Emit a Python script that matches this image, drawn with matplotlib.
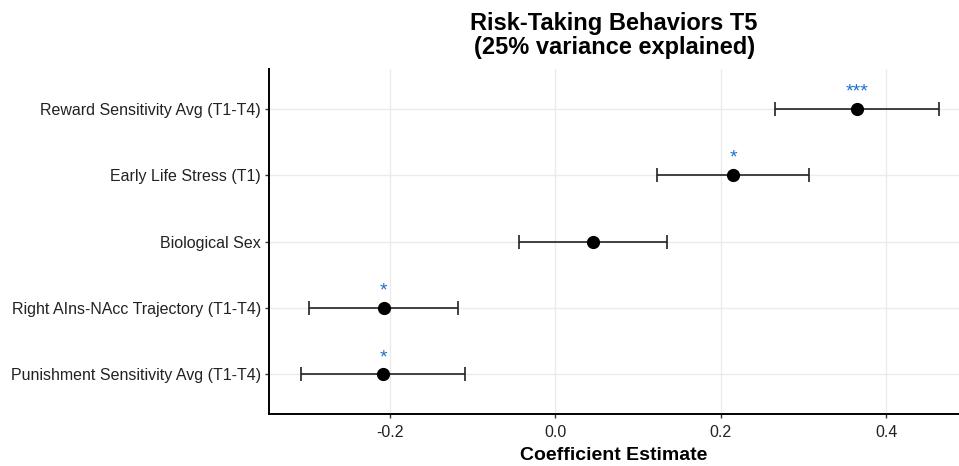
import matplotlib.pyplot as plt

plt.rcParams['font.family'] = ['Liberation Sans', 'DejaVu Sans']

# Predictors (top to bottom), estimates and confidence intervals
predictors = ['Reward Sensitivity Avg (T1-T4)', 'Early Life Stress (T1)', 'Biological Sex',
              'Right AIns-NAcc Trajectory (T1-T4)', 'Punishment Sensitivity Avg (T1-T4)']
estimates = [0.364, 0.215, 0.045, -0.207, -0.208]
ci_low = [0.265, 0.123, -0.044, -0.297, -0.307]
ci_high = [0.463, 0.307, 0.135, -0.1175, -0.109]
stars = ['***', '*', '', '*', '*']
xticks = [-0.2, 0.0, 0.2, 0.4]

fig = plt.figure(figsize=(9.59, 4.66), dpi=100)
ax = fig.add_axes([0.2808, 0.111, 0.7192, 0.741])

ypos = list(range(len(predictors), 0, -1))
err_lo = [e - l for e, l in zip(estimates, ci_low)]
err_hi = [h - e for e, h in zip(estimates, ci_high)]

ax.errorbar(estimates, ypos, xerr=[err_lo, err_hi], fmt='o', color='black',
            ecolor='#222222', elinewidth=1.2, capsize=4.7, capthick=1.2,
            markersize=8.5, zorder=3)

for x, y, s in zip(estimates, ypos, stars):
    if s:
        ax.annotate(s, (x, y), xytext=(0, 6), textcoords='offset points',
                    ha='center', va='bottom', color='#1a73d0', fontsize=14)

ax.set_xlim(-0.3454, 0.4876)
ax.set_ylim(0.4, len(predictors) + 0.6)
ax.set_xticks(xticks)
ax.set_xticklabels([f'{t:.1f}' for t in xticks])
ax.set_yticks(ypos)
ax.set_yticklabels(predictors)

ax.grid(True, color='#ebebeb', linewidth=1.0, zorder=0)
ax.set_axisbelow(True)
for side in ['top', 'right']:
    ax.spines[side].set_visible(False)
for side in ['left', 'bottom']:
    ax.spines[side].set_linewidth(1.4)
    ax.spines[side].set_color('black')
ax.tick_params(axis='both', length=3, width=1.0, color='#333333',
               labelsize=11.5, labelcolor='#222222', pad=3)
ax.tick_params(axis='x', pad=5)

ax.set_xlabel('Coefficient Estimate', fontsize=14, fontweight='bold', labelpad=5)
ax.set_title('Risk-Taking Behaviors T5\n(25% variance explained)',
             fontsize=17, fontweight='bold', pad=11, linespacing=1.02)

fig.savefig('out.png', dpi=100)
